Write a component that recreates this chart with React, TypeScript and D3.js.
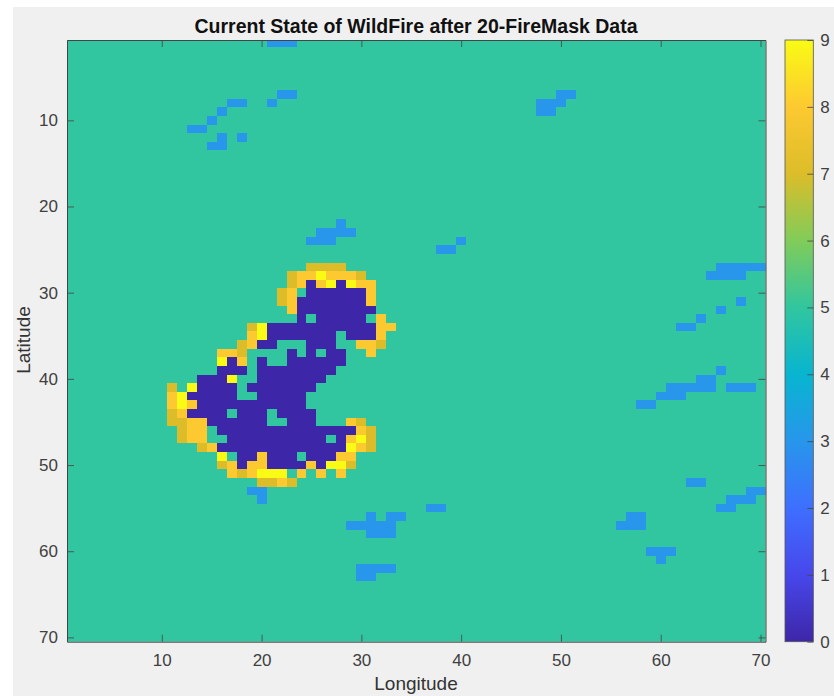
import React, { useEffect, useRef } from 'react';
import * as d3 from 'd3';

const titleText = 'Current State of WildFire after 20-FireMask Data';
const xLabel = 'Longitude';
const yLabel = 'Latitude';

const axisTicks = [10, 20, 30, 40, 50, 60, 70];
const colorTicks = [0, 1, 2, 3, 4, 5, 6, 7, 8, 9];
// parula sampled at each integer of the colorbar
const parula = ['#3E26A8', '#4747EB', '#3E6FFF', '#2796EB', '#08B5D0', '#31C69F', '#81CC59', '#DCBD29', '#FDC931', '#F9FB15'];

const backgroundValue = 5;

// each run is [row, first column, last column]
const spotRuns = [
  [1, 21, 23], [7, 22, 23], [7, 50, 51], [8, 17, 18], [8, 21, 21], [8, 48, 50], [9, 16, 16], [9, 48, 49],
  [10, 15, 15], [11, 13, 14], [12, 16, 16], [12, 18, 18], [13, 15, 16],
  [22, 28, 28], [23, 26, 29], [24, 25, 27], [24, 40, 40], [25, 38, 39],
  [27, 66, 70], [28, 65, 68], [31, 68, 68], [32, 66, 66], [33, 64, 64], [34, 62, 63],
  [39, 66, 66], [40, 64, 65], [41, 61, 65], [41, 67, 69], [42, 60, 62], [43, 58, 59],
  [52, 63, 64], [53, 19, 20], [53, 69, 70], [54, 20, 20], [54, 67, 69], [55, 37, 38], [55, 66, 67],
  [56, 31, 31], [56, 33, 34], [56, 57, 58], [57, 29, 33], [57, 56, 58], [58, 31, 33],
  [60, 59, 61], [61, 60, 60], [62, 30, 33], [63, 30, 31],
];

const burnedRuns = [
  [29, 25, 25], [29, 28, 28], [30, 25, 30], [31, 24, 30], [32, 24, 31], [33, 24, 24], [33, 26, 30],
  [34, 21, 31], [35, 21, 27], [35, 29, 31], [36, 20, 21], [36, 25, 27], [37, 23, 23], [37, 25, 25], [37, 27, 28],
  [38, 17, 17], [38, 20, 20], [38, 23, 28], [39, 16, 18], [39, 20, 27], [40, 14, 16], [40, 20, 26],
  [41, 14, 17], [41, 19, 25], [42, 13, 17], [42, 20, 24], [43, 14, 24], [44, 13, 16], [44, 18, 20], [44, 22, 25],
  [45, 15, 20], [45, 23, 25], [46, 16, 29], [47, 17, 26], [47, 28, 28], [48, 16, 28],
  [49, 18, 19], [49, 21, 23], [49, 25, 27], [50, 18, 18], [50, 21, 24], [50, 26, 26],
];

// fire front cells by value, [row, column]
const front7 = [
  [27, 25], [27, 26], [27, 27], [27, 28], [28, 23], [28, 30], [29, 23], [30, 22], [31, 22], [34, 19],
  [36, 18], [36, 32], [37, 18], [41, 11], [44, 11], [45, 11], [45, 12], [45, 30], [46, 12], [46, 31],
  [47, 12], [47, 31], [48, 14], [48, 31], [50, 16], [50, 29], [51, 18], [52, 20], [52, 21], [52, 23],
];
const front8 = [
  [28, 24], [28, 25], [28, 27], [28, 28], [28, 29], [29, 24], [29, 26], [29, 30], [29, 31], [30, 23], [30, 31],
  [31, 23], [31, 31], [32, 23], [33, 32], [34, 32], [34, 33], [35, 19], [35, 32], [36, 19], [36, 30], [36, 31],
  [37, 16], [37, 17], [37, 31], [38, 18], [42, 11], [43, 11], [43, 13], [44, 12], [45, 13], [45, 14], [45, 29],
  [46, 13], [46, 14], [46, 30], [47, 13], [47, 14], [47, 29], [48, 15], [48, 30], [49, 20], [49, 28], [49, 29],
  [50, 17], [50, 19], [50, 20], [50, 25], [51, 17], [51, 19], [51, 24], [51, 26], [51, 28], [52, 22],
];
const front9 = [
  [28, 26], [29, 27], [29, 29], [34, 20], [35, 20], [38, 16], [40, 17], [41, 13], [42, 12], [43, 12],
  [47, 30], [48, 29], [49, 16], [50, 27], [50, 28], [51, 20], [51, 21], [51, 22],
];

function buildCells() {
  const cells: { row: number; col: number; value: number }[] = [];
  const addRuns = (runs: number[][], value: number) => {
    runs.forEach(([row, from, to]) => {
      d3.range(from, to + 1).forEach(col => cells.push({ row, col, value }));
    });
  };
  addRuns(spotRuns, 3);
  addRuns(burnedRuns, 0);
  front7.forEach(([row, col]) => cells.push({ row, col, value: 7 }));
  front8.forEach(([row, col]) => cells.push({ row, col, value: 8 }));
  front9.forEach(([row, col]) => cells.push({ row, col, value: 9 }));
  return cells;
}

const FONT = '"Liberation Sans", Arial, sans-serif';

export default function App() {
  const ref = useRef<SVGSVGElement>(null);

  useEffect(() => {
    const svg = d3.select(ref.current);
    svg.selectAll('*').remove();

    const left = 67, right = 765.5, top = 40, bottom = 641.7;
    const barLeft = 785, barRight = 813.3;

    const x = d3.scaleLinear().domain([0.5, 70.5]).range([left, right]);
    const y = d3.scaleLinear().domain([0.68, 70.5]).range([top, bottom]);
    const color = d3.scaleLinear<string>().domain(colorTicks).range(parula);

    svg.append('rect').attr('x', 13).attr('y', 7).attr('width', 821).attr('height', 689).attr('fill', '#f0f0f0');

    const defs = svg.append('defs');
    defs.append('clipPath').attr('id', 'plot-clip').append('rect')
      .attr('x', left).attr('y', top).attr('width', right - left).attr('height', bottom - top);
    const gradient = defs.append('linearGradient').attr('id', 'bar-gradient')
      .attr('x1', 0).attr('y1', 1).attr('x2', 0).attr('y2', 0);
    gradient.selectAll('stop').data(colorTicks).enter().append('stop')
      .attr('offset', d => d / 9)
      .attr('stop-color', d => color(d));

    svg.append('rect')
      .attr('x', left).attr('y', top).attr('width', right - left).attr('height', bottom - top)
      .attr('fill', color(backgroundValue));

    svg.append('g').attr('clip-path', 'url(#plot-clip)')
      .selectAll('rect')
      .data(buildCells())
      .enter().append('rect')
      .attr('x', d => x(d.col - 0.5))
      .attr('y', d => y(d.row - 0.5))
      .attr('width', d => x(d.col + 0.5) - x(d.col - 0.5))
      .attr('height', d => y(d.row + 0.5) - y(d.row - 0.5))
      .attr('shape-rendering', 'crispEdges')
      .attr('fill', d => color(d.value));

    const styleAxis = (g: any) => {
      g.attr('font-family', FONT).attr('font-size', 17);
      g.selectAll('path').attr('stroke', '#444');
      g.selectAll('line').attr('stroke', '#444').attr('stroke-width', 0.8);
      g.selectAll('text').attr('fill', '#404040');
    };

    svg.append('g').attr('transform', `translate(0,${bottom})`)
      .call(d3.axisBottom(x).tickValues(axisTicks).tickSizeInner(-7).tickSizeOuter(0).tickPadding(12))
      .call(styleAxis);
    svg.append('g').attr('transform', `translate(0,${top})`)
      .call(d3.axisTop(x).tickValues(axisTicks).tickSizeInner(-7).tickSizeOuter(0).tickFormat(() => ''))
      .call(styleAxis);
    svg.append('g').attr('transform', `translate(${left},0)`)
      .call(d3.axisLeft(y).tickValues(axisTicks).tickSizeInner(-7).tickSizeOuter(0).tickPadding(9))
      .call(styleAxis);
    svg.append('g').attr('transform', `translate(${right},0)`)
      .call(d3.axisRight(y).tickValues(axisTicks).tickSizeInner(-7).tickSizeOuter(0).tickFormat(() => ''))
      .call(styleAxis);

    // colorbar
    const barScale = d3.scaleLinear().domain([0, 9]).range([bottom, top]);
    svg.append('rect')
      .attr('x', barLeft).attr('y', top).attr('width', barRight - barLeft).attr('height', bottom - top)
      .attr('fill', 'url(#bar-gradient)')
      .attr('stroke', '#555').attr('stroke-width', 0.8);
    svg.append('g').attr('transform', `translate(${barRight},0)`)
      .call(d3.axisRight(barScale).tickValues(colorTicks).tickSizeInner(-6).tickSizeOuter(0).tickPadding(7))
      .call(styleAxis)
      .call((g: any) => g.select('path').remove());

    svg.append('text').attr('x', 416).attr('y', 33).attr('text-anchor', 'middle')
      .attr('font-family', FONT).attr('font-size', 19.5).attr('font-weight', 'bold').attr('fill', '#111')
      .text(titleText);
    svg.append('text').attr('x', 416).attr('y', 690).attr('text-anchor', 'middle')
      .attr('font-family', FONT).attr('font-size', 19).attr('fill', '#333')
      .text(xLabel);
    svg.append('text').attr('transform', 'translate(30,340) rotate(-90)').attr('text-anchor', 'middle')
      .attr('font-family', FONT).attr('font-size', 19).attr('fill', '#333')
      .text(yLabel);
  }, []);

  return <svg ref={ref} width={834} height={696} style={{ position: 'absolute', left: 0, top: 0 }}></svg>;
}
